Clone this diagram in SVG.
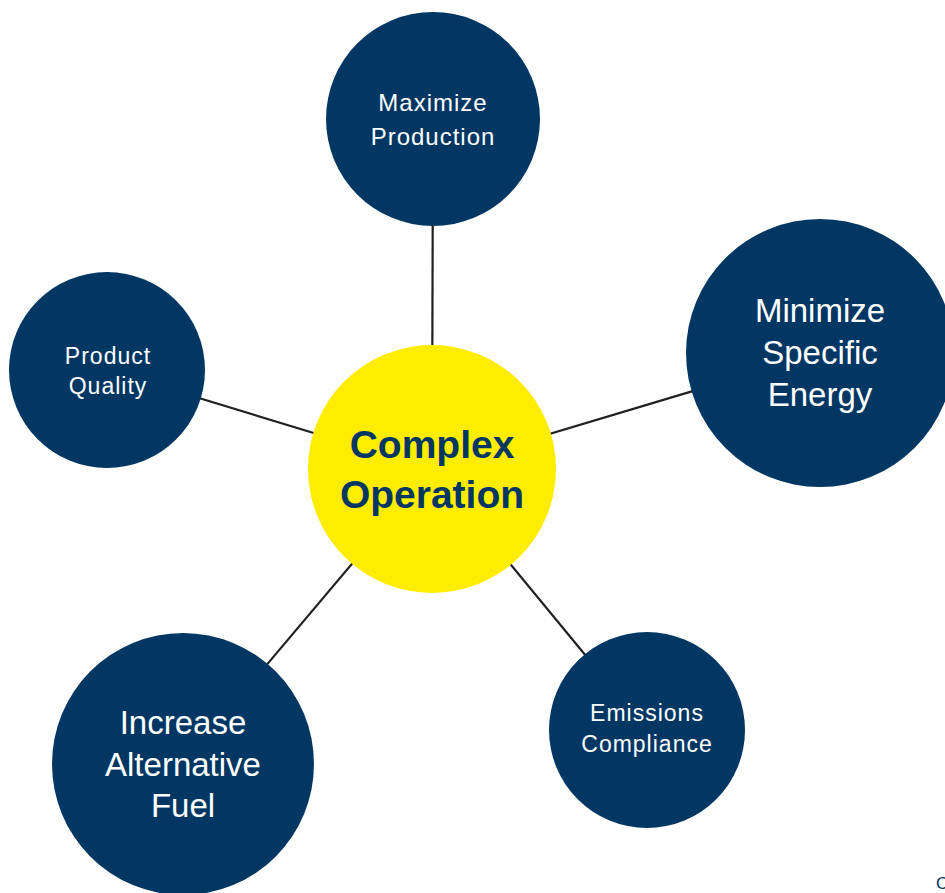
<svg xmlns="http://www.w3.org/2000/svg" width="945" height="893" viewBox="0 0 945 893">
<style>
.node{fill:#023764}
.lbl{fill:#ffffff;font-family:"Liberation Sans",Arial,sans-serif;text-anchor:middle}
.ctr{fill:#023764;font-family:"Liberation Sans",Arial,sans-serif;font-weight:bold;text-anchor:middle;font-size:39px}
.conn line{stroke:#231f20;stroke-width:2.2}
</style>
<rect width="945" height="893" fill="#ffffff"/>
<g id="connectors" class="conn">
<line x1="432" y1="469" x2="433" y2="119"/>
<line x1="432" y1="469" x2="820" y2="353"/>
<line x1="432" y1="469" x2="107" y2="370"/>
<line x1="432" y1="469" x2="183" y2="764"/>
<line x1="432" y1="469" x2="647" y2="730"/>
</g>
<g id="center">
<circle cx="432" cy="469" r="124" fill="#ffed00"/>
<text class="ctr" x="432" y="458">Complex</text>
<text class="ctr" x="432" y="508">Operation</text>
</g>
<g id="maximize-production">
<circle class="node" cx="433" cy="119" r="107"/>
<text class="lbl" x="433" y="111" font-size="24" letter-spacing="1">Maximize</text>
<text class="lbl" x="433" y="145" font-size="24" letter-spacing="1">Production</text>
</g>
<g id="minimize-specific-energy">
<circle class="node" cx="820" cy="353" r="134"/>
<text class="lbl" x="820" y="322" font-size="33">Minimize</text>
<text class="lbl" x="820" y="364" font-size="33">Specific</text>
<text class="lbl" x="820" y="406" font-size="33">Energy</text>
</g>
<g id="product-quality">
<circle class="node" cx="107" cy="370" r="98"/>
<text class="lbl" x="108" y="364" font-size="23" letter-spacing="1">Product</text>
<text class="lbl" x="108" y="394" font-size="23" letter-spacing="1">Quality</text>
</g>
<g id="increase-alternative-fuel">
<circle class="node" cx="183" cy="764" r="131"/>
<text class="lbl" x="183" y="734" font-size="33">Increase</text>
<text class="lbl" x="183" y="776" font-size="33">Alternative</text>
<text class="lbl" x="183" y="817" font-size="33">Fuel</text>
</g>
<g id="emissions-compliance">
<circle class="node" cx="647" cy="730" r="98"/>
<text class="lbl" x="647" y="721" font-size="23" letter-spacing="1">Emissions</text>
<text class="lbl" x="647" y="752" font-size="23" letter-spacing="1">Compliance</text>
</g>
<text x="936" y="889" font-family="'Liberation Sans',Arial,sans-serif" font-size="17" fill="#023764">C</text>
</svg>
